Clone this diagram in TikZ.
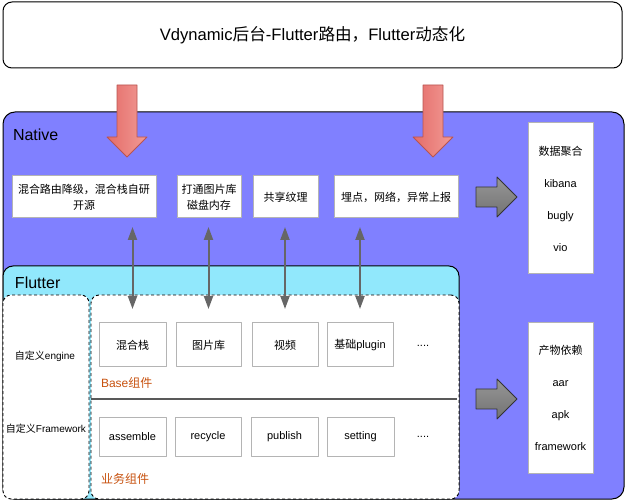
\documentclass[tikz,border=0pt]{standalone}
\usepackage{fontspec}
\setmainfont{Liberation Sans}
\newfontfamily\cjk{Noto Sans CJK SC}
\newcommand\zh[1]{{\cjk #1}}
\usetikzlibrary{arrows.meta}
\definecolor{nativefill}{RGB}{128,128,255}
\definecolor{flutterfill}{RGB}{145,232,252}
\definecolor{orangetxt}{RGB}{200,82,15}
\definecolor{arrowgray}{RGB}{102,102,102}
\definecolor{boxgray}{RGB}{180,180,180}
\definecolor{redA}{RGB}{228,108,104}
\definecolor{redB}{RGB}{242,155,150}
\definecolor{redline}{RGB}{184,84,80}
\definecolor{grayA}{RGB}{150,150,150}
\definecolor{grayB}{RGB}{115,115,115}
\definecolor{grayline}{RGB}{51,51,51}
\begin{document}
\begin{tikzpicture}[x=1pt,y=-1pt,line join=round,
  every node/.style={inner sep=0pt,outer sep=0pt},
  frame/.style={draw=black,line width=1pt,anchor=north west},
  wbox/.style={draw=boxgray,fill=white,line width=1pt,align=center,anchor=north west,font=\fontsize{11}{16}\selectfont},
  lbox/.style={draw=boxgray,fill=white,line width=1pt,align=center,anchor=north west,font=\fontsize{11}{32}\selectfont},
  dbox/.style={draw=black,fill=white,line width=0.9pt,dash pattern=on 3pt off 2.5pt,rounded corners=8pt,anchor=north west},
  biglabel/.style={anchor=west,font=\fontsize{16}{19}\selectfont},
  smalllabel/.style={font=\fontsize{10}{12}\selectfont},
  grouplabel/.style={anchor=west,text=orangetxt,font=\fontsize{12}{14}\selectfont},
  dotslabel/.style={font=\fontsize{11}{13}\selectfont},
  redarrow/.style={draw=redline,line width=0.8pt,left color=redA,right color=redB},
  grayarrow/.style={draw=grayline,line width=0.8pt,top color=grayA,bottom color=grayB},
  varrow/.style={{Triangle[width=9pt,length=13pt]}-{Triangle[width=9pt,length=13pt]},line width=2pt,draw=arrowgray,shorten <=9pt,shorten >=14pt}
]
\useasboundingbox (0,0) rectangle (625,500);

% title
\node[frame,fill=white,rounded corners=9pt,minimum width=619pt,minimum height=66pt,font=\fontsize{16.6}{19}\selectfont] (title) at (3,2) {Vdynamic\zh{后台}-Flutter\zh{路由，}Flutter\zh{动态化}};

% native
\node[frame,fill=nativefill,rounded corners=12pt,minimum width=621pt,minimum height=387pt] (native) at (3,112) {};
\node[biglabel] (nlabel) at (13,135) {Native};

% flutter
\node[frame,fill=flutterfill,rounded corners=10pt,minimum width=456pt,minimum height=233pt] (flutter) at (3,266) {};
\node[biglabel] (flabel) at (15,283) {Flutter};

% dashed boxes
\node[dbox,minimum width=86pt,minimum height=204pt] (dleft) at (3,295) {};
\node[dbox,minimum width=368pt,minimum height=204pt] (dright) at (91,295) {};
\coordinate (divl) at (91,399);
\coordinate (divr) at (457,399);
\draw[line width=1.5pt,draw=black!65] (divl) -- (divr);

\node[smalllabel] (engine) at (45,356) {\zh{自定义}engine};
\node[smalllabel] (fw) at (46,429) {\zh{自定义}Framework};

% native row
\node[wbox,minimum width=144pt,minimum height=42pt,font=\cjk\fontsize{11}{16}\selectfont] (n1) at (12,176) {混合路由降级，混合栈自研\\开源};
\node[wbox,minimum width=64pt,minimum height=42pt,font=\cjk\fontsize{11}{16}\selectfont] (n2) at (177,176) {打通图片库\\磁盘内存};
\node[wbox,minimum width=65pt,minimum height=42pt,font=\cjk\fontsize{11}{16}\selectfont] (n3) at (253,176) {共享纹理};
\node[wbox,minimum width=124pt,minimum height=42pt,font=\cjk\fontsize{11}{16}\selectfont] (n4) at (334,176) {埋点，网络，异常上报};

% right boxes
\node[lbox,minimum width=65pt,minimum height=151pt] (r1) at (528,123) {\zh{数据聚合}\\kibana\\bugly\\vio};
\node[lbox,minimum width=65pt,minimum height=150pt] (r2) at (528,323) {\zh{产物依赖}\\aar\\apk\\framework};

% base row
\node[wbox,minimum width=67pt,minimum height=44pt] (b1) at (99,323) {\zh{混合栈}};
\node[wbox,minimum width=65pt,minimum height=44pt] (b2) at (176,323) {\zh{图片库}};
\node[wbox,minimum width=66pt,minimum height=44pt] (b3) at (252,323) {\zh{视频}};
\node[wbox,minimum width=66pt,minimum height=44pt] (b4) at (327,323) {\zh{基础}plugin};
\node[dotslabel] (bdots) at (423,346) {....};
\node[grouplabel] (blabel) at (101,383) {Base\zh{组件}};

% business row
\node[wbox,minimum width=67pt,minimum height=39pt] (z1) at (99,417) {assemble};
\node[wbox,minimum width=66pt,minimum height=39pt] (z2) at (175,417) {recycle};
\node[wbox,minimum width=67pt,minimum height=39pt] (z3) at (251,417) {publish};
\node[wbox,minimum width=67pt,minimum height=39pt] (z4) at (327,417) {setting};
\node[dotslabel] (zdots) at (423,437) {....};
\node[grouplabel] (zlabel) at (101,479) {\zh{业务组件}};

% big red arrows
\draw[redarrow] (117,85) -- (137,85) -- (137,137) -- (147,137) -- (127,157) -- (107,137) -- (117,137) -- cycle;
\draw[redarrow] (423,85) -- (443,85) -- (443,137) -- (453,137) -- (433,157) -- (413,137) -- (423,137) -- cycle;

% big gray arrows
\draw[grayarrow] (476,187) -- (497,187) -- (497,177) -- (517,197) -- (497,217) -- (497,207) -- (476,207) -- cycle;
\draw[grayarrow] (476,389) -- (497,389) -- (497,379) -- (517,399) -- (497,419) -- (497,409) -- (476,409) -- cycle;

% vertical double arrows
\draw[varrow] (b1.north |- n1.south) -- (b1.north);
\draw[varrow] (b2.north |- n2.south) -- (b2.north);
\draw[varrow] (b3.north |- n3.south) -- (b3.north);
\draw[varrow] (b4.north |- n4.south) -- (b4.north);
\end{tikzpicture}
\end{document}
